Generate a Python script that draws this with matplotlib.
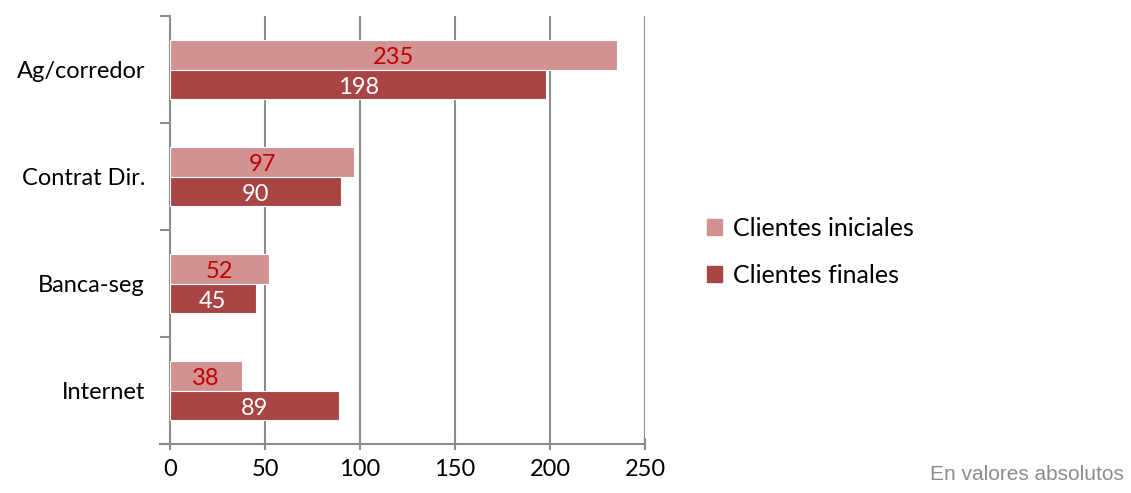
import matplotlib
matplotlib.use("Agg")
import matplotlib.pyplot as plt
import numpy as np
from matplotlib.patches import Patch

categories = ["Ag/corredor", "Contrat Dir.", "Banca-seg", "Internet"]
iniciales = [235, 97, 52, 38]
finales = [198, 90, 45, 89]
xticks = [0, 50, 100, 150, 200, 250]

c_ini = "#D39292"
c_fin = "#A94544"
grid_c = "#8C8C8C"
font = "Lato"

fig = plt.figure(figsize=(11.31, 4.93), dpi=100)
ax = fig.add_axes([170/1131, 1-444/493, (645-170)/1131, (444-16)/493])

n = len(categories)
pos = np.arange(n)[::-1] + 0.5  # centers, top to bottom
h = 0.28
b1 = ax.barh(pos + h/2, iniciales, height=h, color=c_ini, edgecolor="white", linewidth=0.8, zorder=3)
b2 = ax.barh(pos - h/2, finales, height=h, color=c_fin, edgecolor="white", linewidth=0.8, zorder=3)

for rect, v in zip(b1, iniciales):
    ax.text(v/2, rect.get_y() + rect.get_height()/2 - 0.03, str(v), ha="center", va="center",
            color="#C00000", fontsize=17, family=font, zorder=4)
for rect, v in zip(b2, finales):
    ax.text(v/2, rect.get_y() + rect.get_height()/2 - 0.03, str(v), ha="center", va="center",
            color="white", fontsize=17, family=font, zorder=4)

ax.set_xlim(0, 250)
ax.set_ylim(0, n)
ax.set_xticks(xticks)
ax.set_xticklabels([str(x) for x in xticks], fontsize=17, family=font)
ax.set_yticks(np.arange(n + 1))
ax.set_yticklabels([])
ax.set_yticks(pos, minor=True)
ax.set_yticklabels(categories, minor=True, fontsize=17, family=font)
ax.tick_params(axis="y", which="minor", length=0, pad=18)
ax.tick_params(axis="y", which="major", length=7, color=grid_c, width=1.5, direction="out")
ax.tick_params(axis="x", length=8, color=grid_c, width=1.5, direction="inout", pad=7)

ax.xaxis.grid(True, color=grid_c, linewidth=1.5, zorder=0)
ax.set_axisbelow(True)
for s in ["top", "right"]:
    ax.spines[s].set_visible(False)
ax.spines["left"].set_color(grid_c)
ax.spines["left"].set_linewidth(1.5)
ax.spines["bottom"].set_color(grid_c)
ax.spines["bottom"].set_linewidth(1.5)
ax.spines["bottom"].set_bounds(-5.3, 250)
ax.spines["bottom"].set_clip_on(False)

handles = [Patch(color=c_ini, label="Clientes iniciales"), Patch(color=c_fin, label="Clientes finales")]
fig.legend(handles=handles, loc="center left", bbox_to_anchor=(707/1131, 1-252/493), frameon=False,
           prop={"family": font, "size": 18}, handlelength=0.6, handleheight=0.6,
           handletextpad=0.45, labelspacing=0.95, borderpad=0, borderaxespad=0)

fig.text(1124/1131, 1-475/493, "En valores absolutos", ha="right", va="center", color="#8C8C8C",
         fontsize=15, family="Liberation Sans")

fig.savefig("out.png", dpi=100)
